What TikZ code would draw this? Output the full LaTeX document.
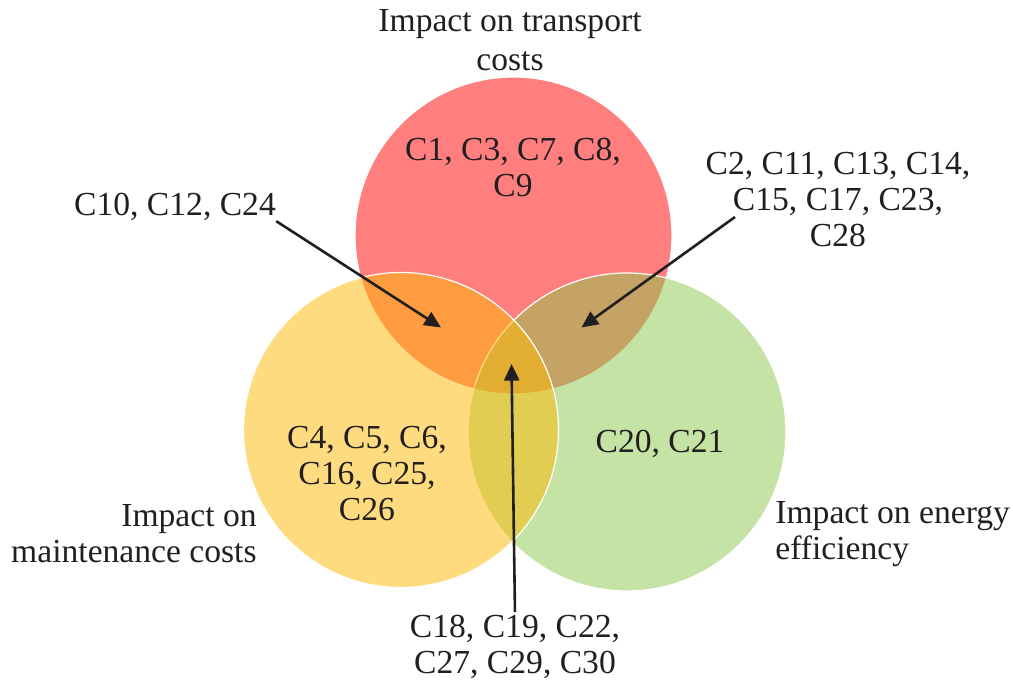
\documentclass[tikz,border=0pt]{standalone}
\usepackage{fontspec}
\setmainfont{Liberation Serif}
\usepackage{xcolor}
\usetikzlibrary{calc,positioning,arrows.meta}
\definecolor{vtinta}{RGB}{35,31,32}
\definecolor{vtransp}{RGB}{255,0,0}
\definecolor{vmant}{RGB}{255,185,0}
\definecolor{vener}{RGB}{139,200,75}

\begin{document}
\begin{tikzpicture}[x=0.5pt, y=-0.5pt, font=\fontsize{16.8}{18}\selectfont,
    every node/.style={align=center, inner sep=0pt, text=vtinta},
    circulo/.style={draw=white, line width=0.6pt, fill opacity=0.5},
    flecha/.style={-{Triangle[length=8.3pt,width=7.5pt]}, line width=1.3pt, draw=vtinta}]
  \useasboundingbox (0,0) rectangle (1013,683);
  \fill[white] (0,0) rectangle (1013,683);
  % circles
  \path[circulo, fill=vtransp] (513.5,235.5) circle[radius=79.25pt];
  \path[circulo, fill=vener] (627,432) circle[radius=79.5pt];
  \path[circulo, fill=vmant] (401,430) circle[radius=78.75pt];
  % labels
  \node[font=\fontsize{16.8}{19.5}\selectfont] (tr) at (510,40) {Impact on transport\\costs};
  \node (ctr) at (513,167) {C1, C3, C7, C8,\\C9};
  \node (ctm) at (175,207) {C10, C12, C24};
  \node (cte) at (838,200) {C2, C11, C13, C14,\\C15, C17, C23,\\C28};
  \node (cma) at (367,474) {C4, C5, C6,\\C16, C25,\\C26};
  \node (cen) at (660,444) {C20, C21};
  \node[anchor=east, align=right] (ma) at (257,533.5) {Impact on\\maintenance costs};
  \node[anchor=west, align=left] (en) at (775,534) {Impact on energy\\efficiency};
  \node (call) at (515,647) {C18, C19, C22,\\C27, C29, C30};
  % arrows
  \coordinate (ptm) at (441,327.5);
  \coordinate (pte) at (581.5,327.5);
  \coordinate (pall) at (511.5,364);
  \coordinate (ote) at (735,217);
  \draw[flecha] (ctm.south east) -- (ptm);
  \draw[flecha] (ote) -- (pte);
  \draw[flecha, shorten <=1.5pt] (call.north) -- (pall);
\end{tikzpicture}
\end{document}
